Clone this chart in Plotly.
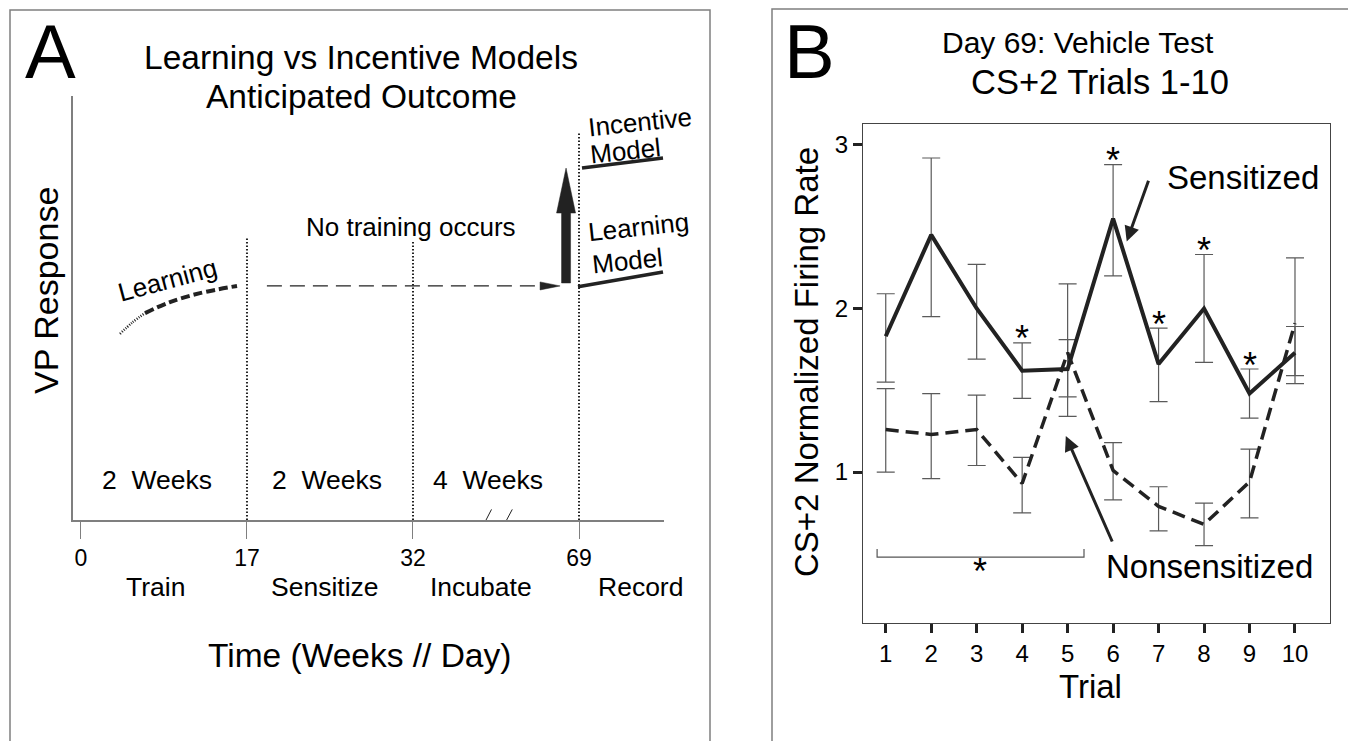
import plotly.graph_objects as go

# ---------------- Panel B data ----------------
trials = [1, 2, 3, 4, 5, 6, 7, 8, 9, 10]
sens_mean = [1.83, 2.45, 2.00, 1.62, 1.63, 2.55, 1.66, 2.00, 1.48, 1.73]
sens_upper = [2.09, 2.92, 2.27, 1.79, 2.15, 2.88, 1.88, 2.33, 1.63, 1.89]
sens_lower = [1.55, 1.95, 1.69, 1.45, 1.46, 2.20, 1.43, 1.67, 1.33, 1.59]
nons_mean = [1.26, 1.23, 1.26, 0.93, 1.73, 1.01, 0.79, 0.68, 0.94, 1.91]
nons_upper = [1.51, 1.48, 1.47, 1.09, 1.81, 1.18, 0.91, 0.81, 1.14, 2.31]
nons_lower = [1.00, 0.96, 1.04, 0.75, 1.34, 0.83, 0.64, 0.55, 0.72, 1.54]
star_trials = [4, 6, 7, 8, 9]
y_ticks_b = [1, 2, 3]
bracket_x = [0.81, 5.36]
bracket_y = [0.48, 0.53]
bracket_star = (3.07, 0.39)

# ---------------- Panel A data (schematic) ----------------
day_labels = ["0", "17", "32", "69"]
period_pos = [0, 1, 2, 3]
phase_names = ["Train", "Sensitize", "Incubate", "Record"]
phase_x = [0.45, 1.47, 2.41, 3.37]
duration_text = ["2  Weeks", "2  Weeks", "4  Weeks"]
duration_x = [0.46, 1.48, 2.45]
learn_dot_x = [0.235, 0.31, 0.386]
learn_dot_y = [0.439, 0.466, 0.488]
learn_dash_x = [0.386, 0.536, 0.717, 0.94]
learn_dash_y = [0.488, 0.514, 0.535, 0.552]
divider_x = [1, 2, 3]
divider_top = [0.667, 0.66, 0.915]
plateau_x = [1.12, 2.886]
plateau_y = 0.552
big_arrow_x = 2.922
big_arrow_y = [0.559, 0.724, 0.830]   # base, head base, tip
incentive_line = ([3.018, 3.506], [0.830, 0.854])
learning_line = ([2.994, 3.506], [0.550, 0.585])

FONT = "Liberation Sans, Arial, Helvetica, sans-serif"
OFF = 8                      # page body margin
W, H = 1356 - OFF, 741 - OFF
GRAY = "#7f7f7f"
INK = "#222222"


def pxx(x):
    return (x - OFF) / W


def pxy(y):
    return 1 - (y - OFF) / H


fig = go.Figure()

# ---------- Panel A traces ----------
fig.add_trace(go.Scatter(x=learn_dot_x, y=learn_dot_y, mode="lines",
                         line=dict(color=INK, width=2.5, dash="1px,1.5px", shape="spline"),
                         xaxis="x", yaxis="y", hoverinfo="skip"))
fig.add_trace(go.Scatter(x=learn_dash_x, y=learn_dash_y, mode="lines",
                         line=dict(color=INK, width=4, dash="9px,4px", shape="spline"),
                         xaxis="x", yaxis="y", hoverinfo="skip"))
for dx, top in zip(divider_x, divider_top):
    fig.add_trace(go.Scatter(x=[dx, dx], y=[0, top], mode="lines",
                             line=dict(color=INK, width=2, dash="1.5px,2px"),
                             xaxis="x", yaxis="y", hoverinfo="skip"))
head_len = 20 / 166
fig.add_trace(go.Scatter(x=[plateau_x[0], plateau_x[1] - head_len], y=[plateau_y, plateau_y],
                         mode="lines", line=dict(color=INK, width=1.3, dash="15px,8px"),
                         xaxis="x", yaxis="y", hoverinfo="skip"))
fig.add_trace(go.Scatter(x=incentive_line[0], y=incentive_line[1], mode="lines",
                         line=dict(color=INK, width=3.5), xaxis="x", yaxis="y", hoverinfo="skip"))
fig.add_trace(go.Scatter(x=learning_line[0], y=learning_line[1], mode="lines",
                         line=dict(color=INK, width=3.5), xaxis="x", yaxis="y", hoverinfo="skip"))

# ---------- Panel B traces ----------
for mean, up, lo in [(sens_mean, sens_upper, sens_lower), (nons_mean, nons_upper, nons_lower)]:
    fig.add_trace(go.Scatter(
        x=trials, y=mean, mode="markers",
        marker=dict(size=1, color="rgba(0,0,0,0)"),
        error_y=dict(type="data", symmetric=False,
                     array=[u - m for u, m in zip(up, mean)],
                     arrayminus=[m - l for m, l in zip(mean, lo)],
                     color="#5a5a5a", thickness=1.2, width=9),
        xaxis="x2", yaxis="y2", hoverinfo="skip"))
fig.add_trace(go.Scatter(x=trials, y=nons_mean, mode="lines",
                         line=dict(color=INK, width=3.5, dash="13px,7px"),
                         xaxis="x2", yaxis="y2", name="Nonsensitized"))
fig.add_trace(go.Scatter(x=trials, y=sens_mean, mode="lines",
                         line=dict(color=INK, width=4),
                         xaxis="x2", yaxis="y2", name="Sensitized"))
fig.add_trace(go.Scatter(x=bracket_x[:1] * 2 + bracket_x[1:] * 2,
                         y=[bracket_y[1], bracket_y[0], bracket_y[0], bracket_y[1]],
                         mode="lines", line=dict(color="#555555", width=1.2),
                         xaxis="x2", yaxis="y2", hoverinfo="skip"))

shapes = []
# outer frames
shapes.append(dict(type="rect", xref="paper", yref="paper", x0=pxx(10), x1=pxx(710),
                   y0=-0.05, y1=pxy(10), line=dict(color=GRAY, width=1.5)))
shapes.append(dict(type="rect", xref="paper", yref="paper", x0=pxx(772), x1=pxx(1353),
                   y0=-0.05, y1=pxy(9), line=dict(color=GRAY, width=1.5)))
# axis break on panel A
shapes.append(dict(type="line", xref="x", yref="y", x0=2.455, x1=2.555, y0=0, y1=0,
                   line=dict(color="white", width=4)))
shapes.append(dict(type="line", xref="x", yref="y", x0=2.407, x1=2.473, y0=-0.025, y1=0.025,
                   line=dict(color=INK, width=1)))
shapes.append(dict(type="line", xref="x", yref="y", x0=2.530, x1=2.598, y0=-0.025, y1=0.025,
                   line=dict(color=INK, width=1)))
# arrowhead of the plateau arrow
hh = 4 / 424
shapes.append(dict(type="path", xref="x", yref="y",
                   path=f"M {plateau_x[1]} {plateau_y} L {plateau_x[1]-head_len} {plateau_y+hh} "
                        f"L {plateau_x[1]-head_len} {plateau_y-hh} Z",
                   fillcolor=INK, line=dict(color=INK, width=0.5)))
# big vertical arrow
bw = 4.5 / 166
hw = 9.5 / 166
b0, b1, b2 = big_arrow_y
shapes.append(dict(type="path", xref="x", yref="y",
                   path=(f"M {big_arrow_x-bw} {b0} L {big_arrow_x+bw} {b0} L {big_arrow_x+bw} {b1} "
                         f"L {big_arrow_x+hw} {b1} L {big_arrow_x} {b2} L {big_arrow_x-hw} {b1} "
                         f"L {big_arrow_x-bw} {b1} Z"),
                   fillcolor=INK, line=dict(color=INK, width=0.5)))

ann = []


def text(t, x, y, size, angle=0, xref="paper", yref="paper", xanchor="center",
         yanchor="middle", yshift=0):
    ann.append(dict(text=t, x=x, y=y, xref=xref, yref=yref, showarrow=False,
                    textangle=angle, xanchor=xanchor, yanchor=yanchor, yshift=yshift,
                    font=dict(family=FONT, size=size, color="black")))


# Panel A texts
text("A", pxx(50), pxy(51), 76)
text("Learning vs Incentive Models", pxx(361), pxy(57), 33.5)
text("Anticipated Outcome", pxx(361), pxy(96), 33.5)
text("VP Response", pxx(46), pxy(291), 34, angle=-90)
text("No training occurs", pxx(411), pxy(227), 26)
text("Learning", pxx(167), pxy(280), 26, angle=-15)
text("Incentive", pxx(640), pxy(122), 26, angle=-6)
text("Model", pxx(625), pxy(151), 26, angle=-6)
text("Learning", pxx(638), pxy(227), 26, angle=-6)
text("Model", pxx(627), pxy(261), 26, angle=-6)
for t, xv in zip(duration_text, duration_x):
    text(t, xv, pxy(480), 26.5, xref="x")
for t, xv in zip(phase_names, phase_x):
    text(t, xv, pxy(587), 26.5, xref="x")
text("Time (Weeks // Day)", pxx(359), pxy(655), 33.5)

# Panel B texts
text("B", pxx(810), pxy(51), 76)
text("Day 69: Vehicle Test", pxx(1078), pxy(43), 30)
text("CS+2 Trials 1-10", pxx(1100), pxy(82), 34.5)
text("CS+2 Normalized Firing Rate", pxx(806), pxy(362), 33, angle=-90)
text("Trial", pxx(1090), pxy(686), 33)
text("Sensitized", 8.85, 2.80, 33, xref="x2", yref="y2")
text("Nonsensitized", 8.11, 0.42, 33, xref="x2", yref="y2")
for tr in star_trials:
    i = trials.index(tr)
    text("*", tr, sens_upper[i], 36, xref="x2", yref="y2", yshift=4)
text("*", bracket_star[0], bracket_star[1], 36, xref="x2", yref="y2")

# arrows in B
ann.append(dict(x=6.30, y=2.41, ax=6.79, ay=2.79, xref="x2", yref="y2", axref="x2", ayref="y2",
                text="", showarrow=True, arrowhead=2, arrowsize=1, arrowwidth=3, arrowcolor=INK))
ann.append(dict(x=4.96, y=1.22, ax=5.995, ay=0.566, xref="x2", yref="y2", axref="x2", ayref="y2",
                text="", showarrow=True, arrowhead=2, arrowsize=1, arrowwidth=3, arrowcolor=INK))

fig.update_layout(
    width=W, height=H, margin=dict(l=0, r=0, t=0, b=0),
    paper_bgcolor="white", plot_bgcolor="white", showlegend=False,
    font=dict(family=FONT, color="black"),
    xaxis=dict(domain=[pxx(73), pxx(664)], range=[-0.048, 3.512], anchor="y",
               tickvals=period_pos, ticktext=day_labels, ticks="outside", ticklen=17,
               tickcolor=GRAY, tickwidth=1.2, showline=True, linecolor=GRAY, linewidth=1.5,
               showgrid=False, zeroline=False, tickfont=dict(size=23, family=FONT)),
    yaxis=dict(domain=[pxy(520), pxy(96)], range=[0, 1], anchor="x",
               showline=True, linecolor=GRAY, linewidth=1.5, showticklabels=False,
               ticks="", showgrid=False, zeroline=False),
    xaxis2=dict(domain=[pxx(863), pxx(1330)], range=[0.5, 10.77], anchor="y2",
                tickvals=trials, ticks="outside", ticklen=9, tickwidth=3, tickcolor=INK,
                showline=True, mirror=True, linecolor="#444444", linewidth=1,
                showgrid=False, zeroline=False, tickfont=dict(size=24, family=FONT)),
    yaxis2=dict(domain=[pxy(623), pxy(124)], range=[0.077, 3.128], anchor="x2",
                tickvals=y_ticks_b, ticks="outside", ticklen=9, tickwidth=3, tickcolor=INK,
                showline=True, mirror=True, linecolor="#444444", linewidth=1,
                showgrid=False, zeroline=False, tickfont=dict(size=24, family=FONT)),
    shapes=shapes, annotations=ann,
)

fig.write_html("out.html")
